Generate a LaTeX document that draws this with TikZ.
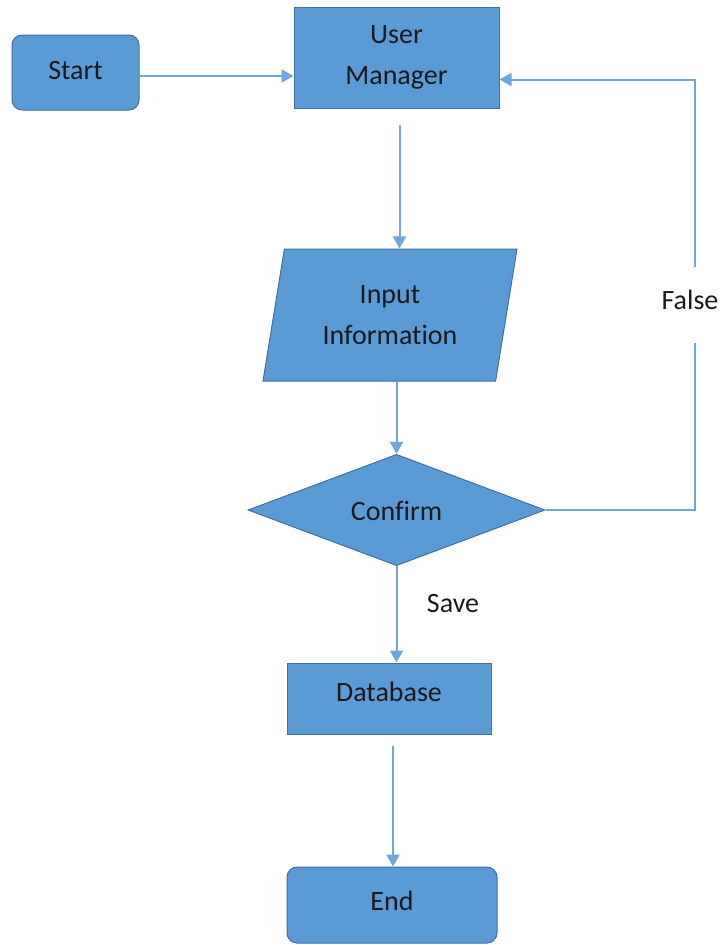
\documentclass[tikz,border=0pt]{standalone}
\usepackage{fontspec}
\setmainfont{Carlito}[Ligatures={NoCommon}]
\usetikzlibrary{shapes.geometric,arrows.meta}
\definecolor{boxfill}{HTML}{5B9BD5}
\definecolor{boxline}{HTML}{41719C}
\definecolor{arrcol}{HTML}{6FA6DC}
\definecolor{txt}{HTML}{1A1A1A}
\tikzset{
  box/.style={draw=boxline, fill=boxfill, line width=1pt, text=txt, font=\fontsize{28}{41}\selectfont, align=center, inner sep=0pt},
  rbox/.style={box, rounded corners=10pt},
  conn/.style={draw=arrcol, line width=2pt},
  arr/.style={conn, -{Triangle[length=12pt,width=13pt]}},
  lbl/.style={text=txt, font=\fontsize{28}{34}\selectfont, inner sep=0pt}
}
\begin{document}
\begin{tikzpicture}[x=1pt,y=-1pt]
\useasboundingbox (0,0) rectangle (724,945);
\node[rbox, minimum width=127pt, minimum height=75pt, text height=20pt, text depth=7pt] (start) at (75.5,72.5) {Start};
\node[box, minimum width=205pt, minimum height=101pt] (um) at (396.5,57.5) {User\\Manager};
\node[box, trapezium, trapezium left angle=77, trapezium right angle=103, trapezium stretches=true, minimum width=254pt, minimum height=132pt] (input) at (390,315) {Input\\Information};
\node[box, diamond, minimum width=297pt, minimum height=104pt, text height=20pt, text depth=-10pt] (confirm) at (396.5,510) {Confirm};
\node[box, minimum width=204pt, minimum height=71pt, text height=20pt, text depth=14pt] (db) at (389,698.5) {Database};
\node[rbox, minimum width=210pt, minimum height=76pt, text height=20pt, text depth=10pt] (end) at (392,905) {End};
\node[lbl] (false) at (690,300) {False};
\node[lbl] (save) at (453,604) {Save};
\coordinate (fa) at (695,343);
\coordinate (fb) at (695,267);
% connectors
\draw[arr] ([yshift=-3.5pt]start.east) -- ([yshift=-3.5pt]um.west |- start.east);
\draw[arr, shorten <=16pt] ([xshift=3pt]um.south) -- ([xshift=3pt]um.south |- input.north);
\draw[arr] (input.south -| confirm.north) -- (confirm.north);
\draw[arr] (confirm.south) -- (confirm.south |- db.north);
\draw[arr, shorten <=11pt] ([xshift=4pt]db.south) -- ([xshift=4pt]db.south |- end.north);
\draw[conn] (confirm.east) -| (fa);
\draw[arr] (fb) |- ([yshift=-22pt]um.east);
\end{tikzpicture}
\end{document}
